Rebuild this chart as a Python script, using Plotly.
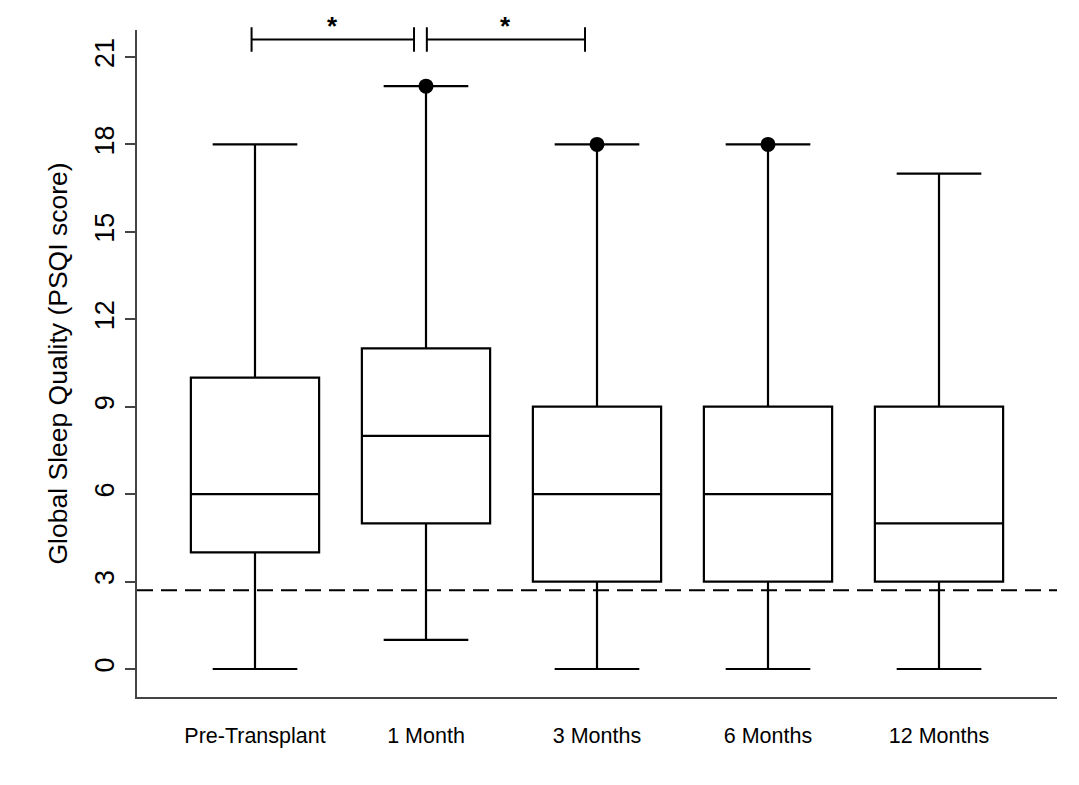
import plotly.graph_objects as go

# ---- data ----
categories = ["Pre-Transplant", "1 Month", "3 Months", "6 Months", "12 Months"]
lower_whisker = [0, 1, 0, 0, 0]
q1 = [4, 5, 3, 3, 3]
median = [6, 8, 6, 6, 5]
q3 = [10, 11, 9, 9, 9]
upper_whisker = [18, 20, 18, 18, 17]
outlier_cats = ["1 Month", "3 Months", "6 Months"]
outlier_vals = [20, 18, 18]
cutoff = 2.7
comparisons = [("Pre-Transplant", "1 Month", "*"), ("1 Month", "3 Months", "*")]
y_ticks = [0, 3, 6, 9, 12, 15, 18, 21]

FONT = "Liberation Sans, Arial, Helvetica, sans-serif"
pos = {c: i for i, c in enumerate(categories)}
YMIN, YMAX = -0.961, 21.926
XMIN, XMAX = -0.69, 4.69


def ypaper(v):
    return (v - YMIN) / (YMAX - YMIN)


fig = go.Figure()
fig.add_trace(go.Box(
    x=[pos[c] for c in categories],
    q1=q1, median=median, q3=q3,
    lowerfence=lower_whisker, upperfence=upper_whisker,
    width=0.75, whiskerwidth=0.66,
    fillcolor="white",
    line=dict(color="black", width=2.2),
    boxpoints=False, showlegend=False, hoverinfo="skip",
))
fig.add_trace(go.Scatter(
    x=[pos[c] for c in outlier_cats], y=outlier_vals,
    mode="markers", marker=dict(color="black", size=15),
    showlegend=False, hoverinfo="skip",
))

shapes = [dict(type="line", xref="paper", yref="y", x0=0, x1=1, y0=cutoff, y1=cutoff,
               line=dict(color="black", width=2, dash="16px,8px"))]
annotations = []
bracket_y = 21.6
half = 0.42
for a, b, lab in comparisons:
    xa = pos[a] - 0.02 if pos[a] == 0 else pos[a] + 0.005
    xb = pos[b] - 0.07
    for (x0, x1, y0, y1) in [(xa, xb, bracket_y, bracket_y),
                             (xa, xa, bracket_y - half, bracket_y + half),
                             (xb, xb, bracket_y - half, bracket_y + half)]:
        shapes.append(dict(type="line", xref="x", yref="paper", x0=x0, x1=x1,
                           y0=ypaper(y0), y1=ypaper(y1),
                           line=dict(color="black", width=2)))
    annotations.append(dict(x=(xa + xb) / 2, y=ypaper(bracket_y + 0.45), xref="x", yref="paper",
                            text="<b>" + lab + "</b>", showarrow=False, yanchor="middle",
                            font=dict(family=FONT, size=26, color="black")))

annotations.append(dict(x=-(137 - 57) / 920, y=0.5, xref="paper", yref="paper",
                        text="Global Sleep Quality (PSQI score)", textangle=-90,
                        showarrow=False, xanchor="center", yanchor="middle",
                        font=dict(family=FONT, size=26.5, color="black")))

fig.update_layout(
    width=1063, height=769, autosize=False,
    margin=dict(l=129, r=14, t=22, b=80),
    paper_bgcolor="white", plot_bgcolor="white",
    shapes=shapes, annotations=annotations,
    font=dict(family=FONT, color="black"),
    xaxis=dict(range=[XMIN, XMAX], tickvals=list(range(len(categories))), ticktext=categories,
               showline=True, linecolor="#444", linewidth=1.5, showgrid=False, zeroline=False,
               ticks="outside", ticklen=18, tickcolor="rgba(0,0,0,0)",
               tickfont=dict(family=FONT, size=21.5, color="black")),
    yaxis=dict(range=[YMIN, YMAX], tickvals=y_ticks, showline=True, linecolor="#444",
               linewidth=1.5, showgrid=False, zeroline=False,
               ticks="outside", ticklen=10, tickcolor="#444", tickwidth=1.5,
               tickangle=-90, ticklabelstandoff=0,
               tickfont=dict(family=FONT, size=27, color="black")),
)

fig.write_html("out.html")
